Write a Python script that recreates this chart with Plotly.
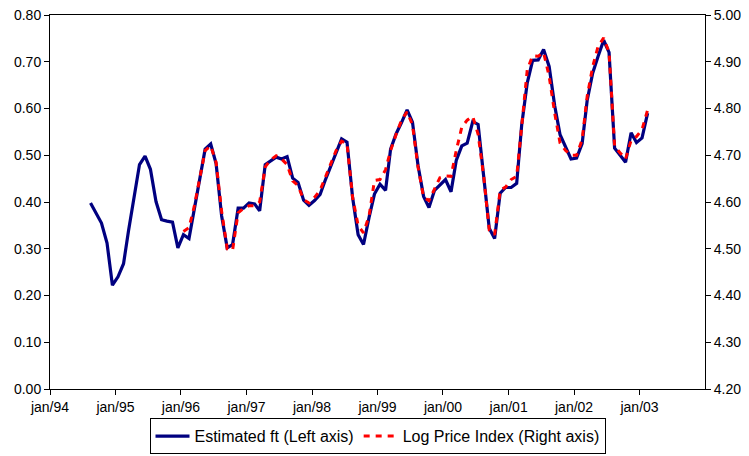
import pandas as pd
import plotly.graph_objects as go


# monthly observations, Aug 1994 - Feb 2003
ft_dates = pd.date_range('1994-08-01', '2003-02-01', freq='MS') + pd.Timedelta(days=14)
ft_values = [
    0.398, 0.376, 0.355, 0.312, 0.222,
    0.240, 0.268, 0.339, 0.413, 0.480, 0.498, 0.470, 0.401, 0.362, 0.359, 0.357, 0.302,
    0.330, 0.322, 0.386, 0.449, 0.513, 0.524, 0.482, 0.370, 0.302, 0.309, 0.387, 0.387,
    0.398, 0.396, 0.381, 0.480, 0.488, 0.496, 0.492, 0.497, 0.451, 0.442, 0.404, 0.393,
    0.403, 0.416, 0.446, 0.477, 0.508, 0.535, 0.528, 0.410, 0.330, 0.309, 0.367, 0.417,
    0.438, 0.425, 0.513, 0.546, 0.570, 0.597, 0.571, 0.478, 0.412, 0.388, 0.425, 0.437,
    0.448, 0.422, 0.489, 0.520, 0.526, 0.572, 0.566, 0.455, 0.344, 0.322, 0.419, 0.431,
    0.431, 0.440, 0.565, 0.655, 0.703, 0.704, 0.726, 0.690, 0.606, 0.544, 0.516, 0.492,
    0.494, 0.525, 0.617, 0.676, 0.712, 0.746, 0.720, 0.515, 0.500, 0.485, 0.548, 0.527,
    0.537, 0.590,
]

# log price index, Jan 1996 - Feb 2003
lpi_dates = pd.date_range('1996-01-01', '2003-02-01', freq='MS') + pd.Timedelta(days=14)
lpi_values = [
    4.537, 4.545, 4.590, 4.650, 4.710, 4.720, 4.685, 4.580, 4.500, 4.497, 4.577, 4.586,
    4.592, 4.592, 4.600, 4.675, 4.690, 4.699, 4.692, 4.680, 4.645, 4.635, 4.605, 4.598,
    4.610, 4.625, 4.652, 4.682, 4.710, 4.730, 4.725, 4.610, 4.550, 4.534, 4.570, 4.646,
    4.648, 4.669, 4.710, 4.745, 4.775, 4.793, 4.765, 4.675, 4.610, 4.603, 4.628, 4.652,
    4.656, 4.655, 4.710, 4.760, 4.775, 4.783, 4.745, 4.655, 4.540, 4.530, 4.625, 4.632,
    4.648, 4.655, 4.762, 4.883, 4.913, 4.912, 4.920, 4.869, 4.790, 4.726, 4.710, 4.700,
    4.700, 4.733, 4.826, 4.890, 4.933, 4.951, 4.920, 4.719, 4.705, 4.692, 4.732, 4.740,
    4.755, 4.797,
]

year_ticks = pd.date_range('1994-01-01', '2003-01-01', freq='YS')
year_labels = ['jan/%s' % d.strftime('%y') for d in year_ticks]

font = 'Liberation Sans, Arial, sans-serif'

#%%
fig = go.Figure()

fig.add_trace(
    go.Scatter(
        x=ft_dates,
        y=ft_values,
        mode='lines',
        name='Estimated ft (Left axis)',
        line=dict(color='#000080', width=3.2),
    )
)

fig.add_trace(
    go.Scatter(
        x=lpi_dates,
        y=lpi_values,
        mode='lines',
        name='Log Price Index (Right axis)',
        line=dict(color='#ff0000', width=3, dash='6px,6px'),
        yaxis='y2',
    )
)

axis_style = dict(
    ticks='outside',
    ticklen=5,
    tickcolor='black',
    showline=True,
    linecolor='black',
    linewidth=1,
    showgrid=False,
    zeroline=False,
    automargin=False,
    ticklabeloverflow='allow',
)

# the page body keeps an 8px margin, so the figure is drawn 8px smaller
fig.update_layout(
    width=741,
    height=448,
    margin=dict(l=42, r=44, t=7, b=67),
    paper_bgcolor='white',
    plot_bgcolor='white',
    font=dict(family=font, size=14, color='black'),
    xaxis=dict(
        range=['1994-01-01', '2004-01-01'],
        tickvals=year_ticks,
        ticktext=year_labels,
        mirror=True,
        **axis_style,
    ),
    yaxis=dict(
        range=[0, 0.8],
        dtick=0.1,
        tickformat='.2f',
        **axis_style,
    ),
    yaxis2=dict(
        range=[4.2, 5.0],
        dtick=0.1,
        tickformat='.2f',
        overlaying='y',
        side='right',
        **axis_style,
    ),
    legend=dict(
        orientation='h',
        x=0.5,
        xanchor='center',
        yref='container',
        y=0.004,
        yanchor='bottom',
        bordercolor='black',
        borderwidth=1,
        font=dict(size=16),
        tracegroupgap=0,
        itemwidth=34,
    ),
)

fig.write_html('out.html')
